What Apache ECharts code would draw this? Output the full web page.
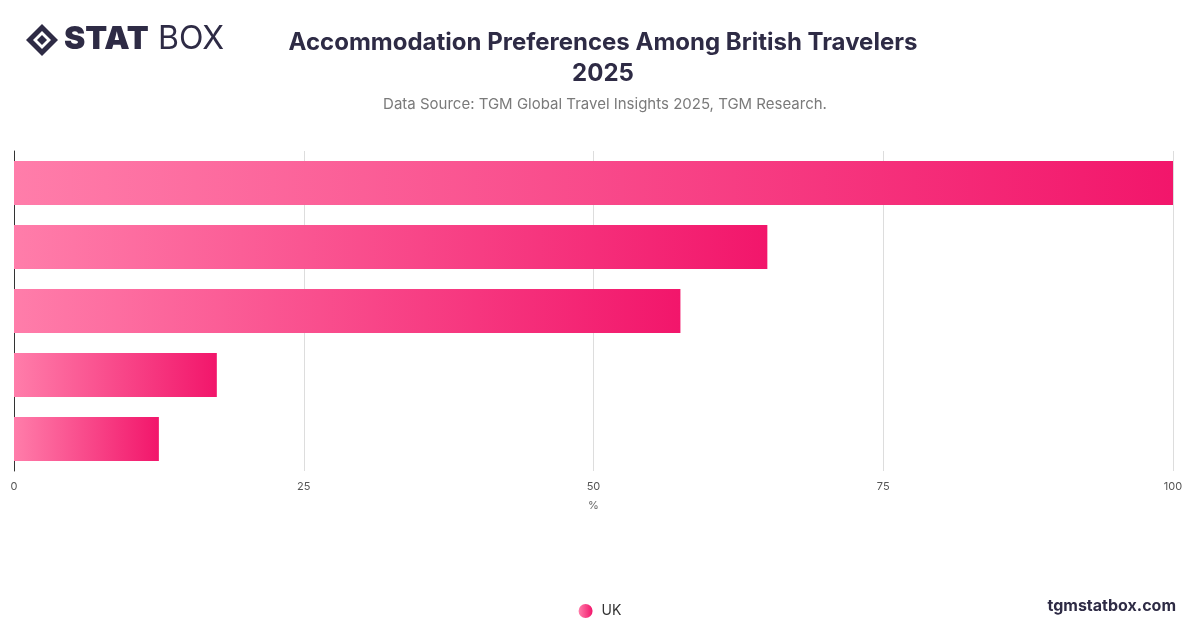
<!DOCTYPE html>
<html><head><meta charset="utf-8">
<script src="https://cdn.jsdelivr.net/npm/echarts@6/dist/echarts.min.js"></script>
<style>html,body{margin:0;padding:0;background:#fff}#c{width:1200px;height:628px}</style>
</head><body><div id="c"></div>
<script>
const categories = ['Hotels','Rented apartments','Staying with friends/family','Hostels','Camping'];
const ukValues = [100, 65, 57.5, 17.5, 12.5];
const xTicks = [0, 25, 50, 75, 100];

const chart = echarts.init(document.getElementById('c'));
chart.setOption({
  animation: false,
  title: [{
    text: 'Accommodation Preferences Among British Travelers\n2025',
    left: 598, top: 22, textAlign: 'center',
    textStyle: {fontFamily: 'Inter', fontSize: 24, fontWeight: 'bold', color: '#2e2b45', lineHeight: 31}
  }, {
    text: 'Data Source: TGM Global Travel Insights 2025, TGM Research.',
    left: 600, top: 92, textAlign: 'center',
    textStyle: {fontFamily: 'Inter', fontSize: 15, fontWeight: 'normal', color: '#7a7a7a'}
  }],
  graphic: [
    {type: 'group', left: 26, top: 24, children: [
      {type: 'polygon', shape: {points: [[16,0],[32,16],[16,32],[0,16]]}, style: {fill: '#2e2b45'}},
      {type: 'polygon', shape: {points: [[16,7],[25,16],[16,25],[7,16]]}, style: {fill: '#fff'}},
      {type: 'polygon', shape: {points: [[16,11],[21,16],[16,21],[11,16]]}, style: {fill: '#2e2b45'}}
    ]},
    {type: 'text', left: 64, top: 23, style: {text: 'STAT', font: '900 32px Inter', fill: '#2e2b45'}},
    {type: 'text', left: 158, top: 23, style: {text: 'BOX', font: '32px Inter', fill: '#2e2b45'}},
    {type: 'text', right: 24, top: 598, style: {text: 'tgmstatbox.com', font: 'bold 16px Inter', fill: '#2e2b45'}}
  ],
  legend: {
    bottom: 5, left: 'center', icon: 'circle', itemWidth: 14, itemHeight: 14, itemGap: 10,
    textStyle: {fontFamily: 'Inter', fontSize: 14, color: '#333', padding: [0,0,0,4]},
    data: ['UK']
  },
  grid: {left: 14, right: 27, top: 151, bottom: 157},
  xAxis: {
    type: 'value', min: 0, max: 100, interval: 25,
    name: '%', nameLocation: 'middle', nameGap: 29,
    nameTextStyle: {fontFamily: 'Inter', fontSize: 11, color: '#666'},
    axisLabel: {fontFamily: 'Inter', fontSize: 11, color: '#555', margin: 10,
      formatter: v => xTicks.includes(v) ? String(v) : ''},
    splitLine: {lineStyle: {color: '#ddd'}},
    axisLine: {show: false}, axisTick: {show: false}
  },
  yAxis: {
    type: 'category', inverse: true, data: categories,
    axisLabel: {show: false},
    axisLine: {show: true, lineStyle: {color: '#333'}},
    axisTick: {show: false}
  },
  series: [{
    name: 'UK', type: 'bar', data: ukValues, barWidth: '69%',
    itemStyle: {color: new echarts.graphic.LinearGradient(0, 0, 1, 0, [
      {offset: 0, color: '#ff7daa'}, {offset: 1, color: '#f2166b'}])}
  }]
});
</script></body></html>
